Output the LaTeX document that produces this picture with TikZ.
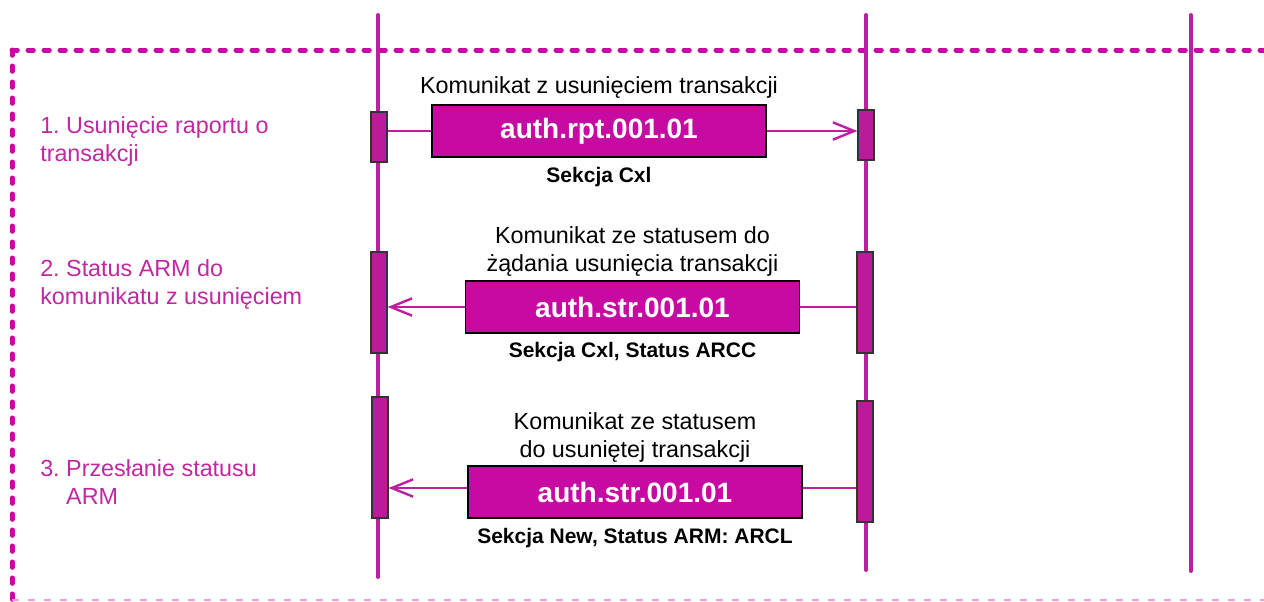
\documentclass[tikz,border=0pt]{standalone}
\usepackage{fontspec}
\setmainfont{Liberation Sans}
\usetikzlibrary{positioning,arrows.meta}
\frenchspacing

\definecolor{magbox}{RGB}{199,10,162}
\definecolor{magbar}{RGB}{185,27,155}
\definecolor{magline}{RGB}{190,30,160}
\definecolor{magtext}{RGB}{192,40,160}
\definecolor{magframe}{RGB}{200,10,165}
\definecolor{pinkdash}{RGB}{242,150,228}

\tikzset{
  lifeline/.style={draw=magline, line width=3pt, line cap=round},
  actbar/.style={draw=black!80, fill=magbar, line width=0.9pt, minimum width=12pt, inner sep=0pt},
  msgbox/.style={draw=black, fill=magbox, line width=1.2pt, minimum width=250.5pt,
    minimum height=39pt, inner sep=0pt, text=white, font=\fontsize{21}{25}\selectfont\bfseries},
  msgtitle/.style={inner sep=0pt, align=center, font=\fontsize{17.5}{21}\selectfont},
  msgnote/.style={inner sep=0pt, font=\fontsize{15.75}{19}\selectfont\bfseries},
  steplabel/.style={inner sep=0pt, align=left, anchor=north west, text=magtext,
    font=\fontsize{17.5}{21}\selectfont},
  msgline/.style={draw=magline, line width=1.8pt},
  msgarrow/.style={msgline, -{Straight Barb[length=16pt, width=13pt]}},
  framedash/.style={draw=magframe, line width=3.75pt, line cap=round, dash pattern=on 4pt off 8pt},
  bottomdash/.style={draw=pinkdash, line width=1.5pt, dash pattern=on 5pt off 7pt},
}

\begin{document}
\begin{tikzpicture}[x=0.75pt, y=-0.75pt]
  \useasboundingbox (0,0) rectangle (1264,601);

  % frame
  \draw[framedash] (12,50) -- (1264,50);
  \draw[framedash] (12,50) -- (12,601);
  \draw[bottomdash] (12,600) -- (1264,600);

  % lifelines
  \coordinate (lifeAtop) at (378,15);
  \coordinate (lifeAbot) at (378,577);
  \coordinate (lifeBtop) at (866,15);
  \coordinate (lifeBbot) at (866,570);
  \coordinate (lifeCtop) at (1191,15);
  \coordinate (lifeCbot) at (1191,571);
  \draw[lifeline] (lifeAtop) -- (lifeAbot);
  \draw[lifeline] (lifeBtop) -- (lifeBbot);
  \draw[lifeline] (lifeCtop) -- (lifeCbot);

  % step labels
  \node[steplabel] (step1) at (40,116) {1. Usunięcie raportu o\\transakcji};
  \node[steplabel] (step2) at (40,259) {2. Status ARM do\\komunikatu z usunięciem};
  \node[steplabel] (step3) at (40,459) {3. Przesłanie statusu\\\hphantom{3. }ARM};

  % activation bars
  \node[actbar, minimum height=37.5pt] (bar1l) at (379,137) {};
  \node[actbar, minimum height=37.5pt] (bar1r) at (866,135) {};
  \node[actbar, minimum height=75.75pt] (bar2l) at (379,302.5) {};
  \node[actbar, minimum height=75.75pt] (bar2r) at (865,302.5) {};
  \node[actbar, minimum height=90.75pt] (bar3l) at (380,457.5) {};
  \node[actbar, minimum height=90.75pt] (bar3r) at (865,461.5) {};

  % messages
  \node[msgbox] (msg1) at (599,131) {auth.rpt.001.01};
  \node[msgbox] (msg2) at (632.5,307) {auth.str.001.01};
  \node[msgbox] (msg3) at (635,492) {auth.str.001.01};

  \node[msgtitle, above=4pt of msg1] (title1) {Komunikat z usunięciem transakcji};
  \node[msgtitle, above=3pt of msg2] (title2) {Komunikat ze statusem do\\żądania usunięcia transakcji};
  \node[msgtitle, above=2.25pt of msg3] (title3) {Komunikat ze statusem\\do usuniętej transakcji};

  \node[msgnote, below=7pt of msg1] (note1) {Sekcja Cxl};
  \node[msgnote, below=6.5pt of msg2] (note2) {Sekcja Cxl, Status ARCC};
  \node[msgnote, below=7pt of msg3] (note3) {Sekcja New, Status ARM: ARCL};

  % connectors
  \draw[msgline] (msg1.west -| bar1l.east) -- (msg1.west);
  \draw[msgarrow] (msg1.east) -- (msg1.east -| bar1r.west);

  \draw[msgline] (msg2.east -| bar2r.west) -- (msg2.east);
  \draw[msgarrow] (msg2.west) -- (msg2.west -| bar2l.east);

  \coordinate (row3) at ([yshift=3pt]msg3.center);    % helper
  \draw[msgline] (bar3r.west |- row3) -- (msg3.east |- row3);
  \draw[msgarrow] (msg3.west |- row3) -- (bar3l.east |- row3);
\end{tikzpicture}
\end{document}
